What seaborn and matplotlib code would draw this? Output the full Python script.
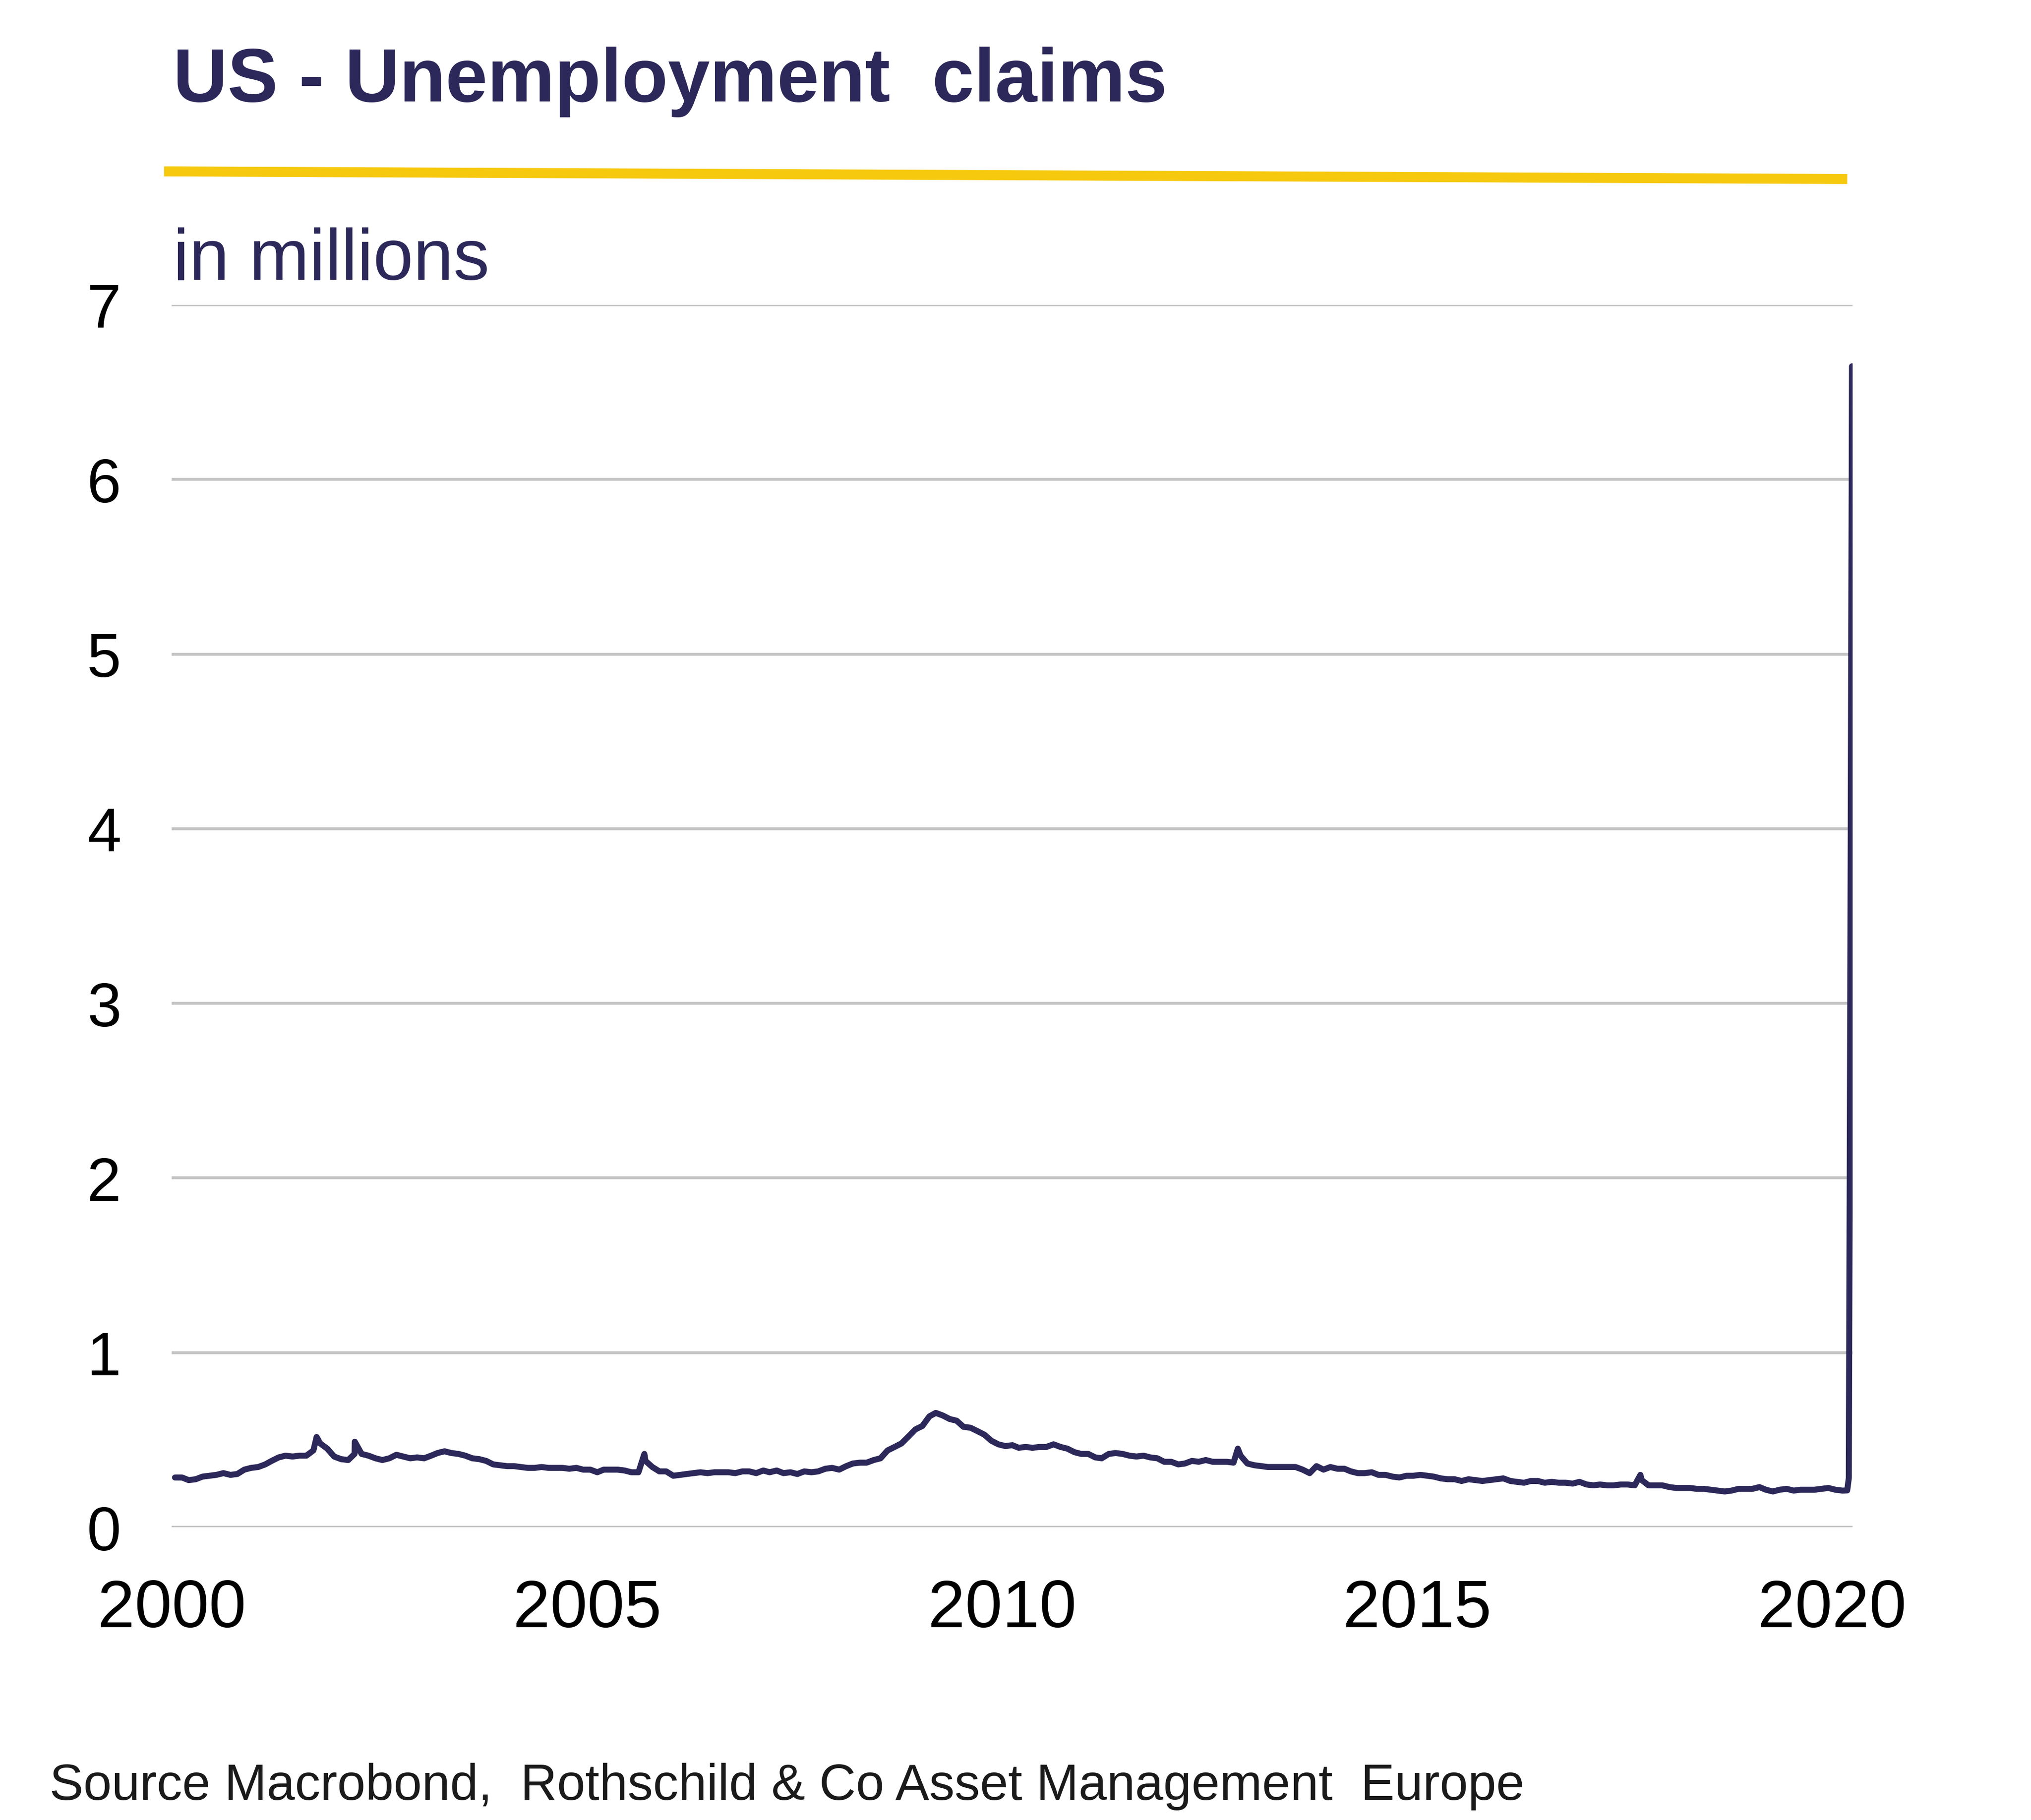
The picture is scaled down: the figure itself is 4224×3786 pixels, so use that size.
import matplotlib
matplotlib.use("Agg")
import matplotlib.pyplot as plt
import matplotlib.dates as mdates
from matplotlib.lines import Line2D
import seaborn as sns
import pandas as pd
import numpy as np

# Weekly initial jobless claims (millions), monthly readings
claims_2000_04 = [
    0.285, 0.285, 0.270, 0.275, 0.290, 0.295, 0.300, 0.310, 0.300, 0.305, 0.330, 0.340,
    0.345, 0.360, 0.380, 0.400, 0.410, 0.405, 0.410, 0.410, 0.440, 0.480, 0.450, 0.405,
    0.390, 0.385, 0.420, 0.420, 0.410, 0.395, 0.385, 0.395, 0.415, 0.405, 0.395, 0.400,
    0.395, 0.410, 0.425, 0.435, 0.425, 0.420, 0.410, 0.395, 0.390, 0.380, 0.360, 0.355,
    0.350, 0.350, 0.345, 0.340, 0.340, 0.345, 0.340, 0.340, 0.340, 0.335, 0.340, 0.330,
]
claims_2005_09 = [
    0.330, 0.315, 0.330, 0.330, 0.330, 0.325, 0.315, 0.315, 0.380, 0.345, 0.320, 0.320,
    0.295, 0.300, 0.305, 0.310, 0.315, 0.310, 0.315, 0.315, 0.315, 0.310, 0.320, 0.320,
    0.310, 0.325, 0.315, 0.325, 0.310, 0.315, 0.305, 0.320, 0.315, 0.320, 0.335, 0.340,
    0.330, 0.350, 0.365, 0.370, 0.370, 0.385, 0.395, 0.440, 0.460, 0.480, 0.520, 0.560,
    0.580, 0.635, 0.655, 0.640, 0.620, 0.610, 0.575, 0.570, 0.550, 0.530, 0.495, 0.475,
]
claims_2010_14 = [
    0.465, 0.470, 0.455, 0.460, 0.455, 0.460, 0.460, 0.475, 0.460, 0.450, 0.430, 0.420,
    0.420, 0.400, 0.395, 0.420, 0.425, 0.420, 0.410, 0.405, 0.410, 0.400, 0.395, 0.375,
    0.375, 0.360, 0.365, 0.380, 0.375, 0.385, 0.375, 0.375, 0.375, 0.370, 0.410, 0.365,
    0.355, 0.350, 0.345, 0.345, 0.345, 0.345, 0.345, 0.330, 0.310, 0.350, 0.330, 0.345,
    0.335, 0.335, 0.320, 0.310, 0.310, 0.315, 0.300, 0.300, 0.290, 0.285, 0.295, 0.295,
]
claims_2015_20 = [
    0.300, 0.295, 0.290, 0.280, 0.275, 0.275, 0.265, 0.275, 0.270, 0.265, 0.270, 0.275,
    0.280, 0.265, 0.260, 0.255, 0.265, 0.265, 0.255, 0.260, 0.255, 0.255, 0.250, 0.260,
    0.245, 0.240, 0.245, 0.240, 0.240, 0.245, 0.245, 0.240, 0.270, 0.240, 0.240, 0.240,
    0.230, 0.225, 0.225, 0.225, 0.220, 0.220, 0.215, 0.210, 0.205, 0.210, 0.220, 0.220,
    0.220, 0.230, 0.215, 0.205, 0.215, 0.220, 0.210, 0.215, 0.215, 0.215, 0.220, 0.225,
    0.215, 0.210,
]

# Single-week spikes visible on the line
spike_dates = ["2001-09-29", "2002-03-16", "2005-09-10", "2012-11-03", "2017-09-09"]
spike_values = [0.517, 0.490, 0.420, 0.450, 0.300]

# March 2020 weekly readings
covid_dates = ["2020-03-07", "2020-03-14", "2020-03-21", "2020-03-28"]
covid_values = [0.211, 0.282, 3.307, 6.648]

y_ticks = [0, 1, 2, 3, 4, 5, 6, 7]
x_tick_years = [2000, 2005, 2010, 2015, 2020]

title = "US - Unemployment  claims"
subtitle = "in millions"
source = "Source Macrobond,  Rothschild & Co Asset Management  Europe"

navy = "#2c2859"
yellow = "#f6c90e"
grid_grey = "#c4c4c4"

# Build the series
monthly = claims_2000_04 + claims_2005_09 + claims_2010_14 + claims_2015_20
monthly_dates = pd.date_range("2000-01-01", periods=len(monthly), freq="MS") + pd.Timedelta(days=14)
df = pd.concat([
    pd.DataFrame({"date": monthly_dates, "claims": monthly}),
    pd.DataFrame({"date": pd.to_datetime(spike_dates), "claims": spike_values}),
    pd.DataFrame({"date": pd.to_datetime(covid_dates), "claims": covid_values}),
]).sort_values("date").reset_index(drop=True)

sns.set_theme(style="white")
plt.rcParams["font.family"] = ["Liberation Sans", "DejaVu Sans"]

fig = plt.figure(figsize=(21.12, 18.935), dpi=200)
ax = fig.add_axes([0.0846, 0.1608, 0.8276, 0.6715])

sns.lineplot(data=df, x="date", y="claims", ax=ax, color=navy, linewidth=4.5)

ax.set_ylim(0, 7)
ax.set_xlim(pd.Timestamp("2000-01-01"), pd.Timestamp("2020-03-31"))
ax.set_yticks(y_ticks)
ax.set_xticks([pd.Timestamp(f"{y}-01-01") for y in x_tick_years])
ax.xaxis.set_major_formatter(mdates.DateFormatter("%Y"))
ax.yaxis.grid(True, color=grid_grey, linewidth=2.2)
ax.xaxis.grid(False)
ax.set_axisbelow(True)
for s in ax.spines.values():
    s.set_visible(False)
ax.tick_params(axis="y", length=0, pad=38, labelsize=46, labelcolor="black")
ax.tick_params(axis="x", length=0, pad=38, labelsize=50, labelcolor="black")
ax.set_xlabel("")
ax.set_ylabel("")

# Header, rule and source
fig.text(0.0853, 0.9442, title, fontsize=56.5, fontweight="bold", color=navy, va="baseline")
fig.add_artist(Line2D([0.0808, 0.9095], [0.9056, 0.9014], color=yellow, linewidth=7.5,
                      solid_capstyle="butt", transform=fig.transFigure))
fig.text(0.0853, 0.8463, subtitle, fontsize=54, color=navy, va="baseline")
fig.text(0.0244, 0.0114, source, fontsize=38, color="#1a1a1a", va="baseline")

fig.savefig("out.png", dpi=200, facecolor="white")
